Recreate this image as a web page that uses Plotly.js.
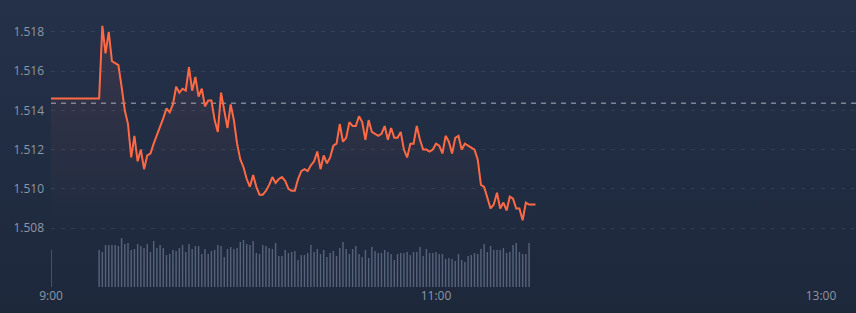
<!DOCTYPE html>
<html>
<head>
<meta charset="utf-8">
<script src="https://cdn.plot.ly/plotly-3.0.1.min.js"></script>
<style>
  html, body { margin: 0; padding: 0; }
  body { width: 856px; height: 313px; background: linear-gradient(#243149, #1d283b); overflow: hidden; }
  #chart { width: 856px; height: 313px; }
</style>
</head>
<body>
<div id="chart"></div>
<script>
// ---- data ----
const auctionTime = '09:00';
const auctionPrice = 1.5146;
const auctionVolume = 37;
const tradeStart = '09:15';
const prevClose = 1.51436;

const prices = [
  1.5146,
  1.5183,1.5169,1.5180,1.5165,1.5164,1.5163,1.5152,1.5140,1.5133,1.5116,
  1.5127,1.5114,1.5120,1.5110,1.5117,1.5118,1.5123,1.5127,1.5131,1.5136,
  1.5141,1.5139,1.5143,1.5152,1.5149,1.5151,1.5150,1.5162,1.5150,1.5157,
  1.5147,1.5151,1.5142,1.5145,1.5145,1.5135,1.5129,1.5149,1.5140,1.5131,
  1.5143,1.5135,1.5123,1.5115,1.5111,1.5105,1.5101,1.5107,1.5101,1.5097,
  1.5097,1.5099,1.5102,1.5106,1.5103,1.5105,1.5106,1.5104,1.5100,1.5099,
  1.5099,1.5105,1.5109,1.5110,1.5109,1.5112,1.5114,1.5119,1.5110,1.5117,
  1.5113,1.5116,1.5122,1.5123,1.5133,1.5124,1.5126,1.5134,1.5132,1.5132,
  1.5137,1.5134,1.5125,1.5135,1.5129,1.5128,1.5127,1.5128,1.5132,1.5125,
  1.5131,1.5126,1.5126,1.5129,1.5120,1.5116,1.5123,1.5123,1.5132,1.5125,
  1.5120,1.5120,1.5119,1.5120,1.5123,1.5122,1.5118,1.5127,1.5124,1.5118,
  1.5126,1.5127,1.5120,1.5123,1.5122,1.5121,1.5120,1.5115,1.5102,1.5101,
  1.5096,1.5090,1.5092,1.5098,1.5090,1.5093,1.5089,1.5096,1.5095,1.5090,
  1.5090,1.5084,1.5093,1.5092,1.5092,1.5092
];

const volumes = [
  37,35,42,42,42,42,41,49,43,44,37,38,43,41,39,43,35,46,39,42,
  39,32,33,37,36,39,42,35,43,38,41,41,33,38,33,36,37,42,41,30,
  38,40,38,39,45,47,43,42,46,34,33,42,41,39,38,44,31,31,37,34,
  35,36,27,32,32,34,42,35,38,33,37,30,34,36,31,39,45,38,33,38,
  41,33,30,37,29,40,36,34,34,37,35,33,27,33,34,34,35,32,35,35,
  40,31,38,34,34,35,33,33,28,29,28,26,33,27,25,31,32,34,33,38,
  43,35,41,37,37,37,39,34,35,42,44,35,33,33,44
];

const priceTicks = [1.508, 1.510, 1.512, 1.514, 1.516, 1.518];
const timeTicks = ['9:00', '11:00', '13:00'];

// ---- helpers ----
function toMinutes(hhmm) {
  const p = hhmm.split(':');
  return (parseInt(p[0], 10) - 9) * 60 + parseInt(p[1], 10);
}
const startMin = toMinutes(tradeStart);
const priceX = [toMinutes(auctionTime)].concat(prices.map((_, i) => startMin + i));
const priceY = [auctionPrice].concat(prices);
const volX = [toMinutes(auctionTime)].concat(volumes.map((_, i) => startMin + i));
const volY = [auctionVolume].concat(volumes);
const tickMinutes = timeTicks.map(toMinutes);

const lineColor = '#ff6a45';

const traces = [
  {
    type: 'scatter', mode: 'lines', x: priceX, y: priceY,
    line: { color: lineColor, width: 2 },
    fill: 'tozeroy',
    fillgradient: {
      type: 'vertical', start: 1.5076, stop: 1.5183,
      colorscale: [[0, 'rgba(255,110,110,0)'], [1, 'rgba(255,110,110,0.10)']]
    },
    xaxis: 'x', yaxis: 'y', hoverinfo: 'skip'
  },
  {
    type: 'bar', x: volX, y: volY, width: 0.45,
    marker: { color: '#56627a', line: { width: 0 } },
    xaxis: 'x', yaxis: 'y2', hoverinfo: 'skip'
  }
];

const layout = {
  width: 856, height: 313,
  margin: { l: 51, r: 0, t: 0, b: 26 },
  paper_bgcolor: 'rgba(0,0,0,0)',
  plot_bgcolor: 'rgba(0,0,0,0)',
  showlegend: false,
  hovermode: false,
  font: { family: '"Open Sans", sans-serif', size: 12, color: '#8e97a6' },
  xaxis: {
    anchor: 'y2',
    range: [0, 250.9],
    tickmode: 'array', tickvals: tickMinutes, ticktext: timeTicks,
    showgrid: false, zeroline: false, showline: false, ticks: '',
    tickfont: { size: 12, color: '#8e97a6' }
  },
  yaxis: {
    domain: [0.18, 1],
    range: [1.50763, 1.51962],
    tickmode: 'array', tickvals: priceTicks, tickformat: '.3f',
    showgrid: true, gridcolor: 'rgba(255,255,255,0.09)', griddash: '4px,6px', gridwidth: 1,
    zeroline: false, showline: false, ticks: '',
    ticklabelstandoff: 6,
    tickfont: { size: 12, color: '#8e97a6' }
  },
  yaxis2: {
    domain: [0, 0.1742],
    range: [0, 50],
    showgrid: false, zeroline: false, showline: false, showticklabels: false
  },
  shapes: [{
    type: 'line', xref: 'paper', x0: 0, x1: 1, yref: 'y', y0: prevClose, y1: prevClose,
    line: { color: 'rgba(185,192,204,0.6)', width: 1.5, dash: '5px,5px' }, layer: 'below'
  }]
};

Plotly.newPlot('chart', traces, layout, { displayModeBar: false, staticPlot: true });
</script>
</body>
</html>
